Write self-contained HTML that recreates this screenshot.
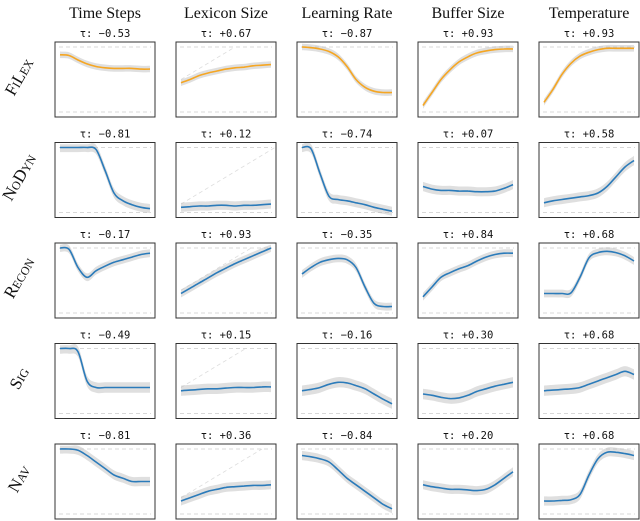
<!DOCTYPE html>
<html><head><meta charset="utf-8">
<style>
html,body{margin:0;padding:0;background:#fff;}
svg{display:block;}
.hdr{font-family:"Liberation Serif",serif;font-size:16px;fill:#111;}
.tau{font-family:"DejaVu Sans Mono","Liberation Mono",monospace;font-size:10.5px;fill:#111;}
.row{font-family:"Liberation Serif",serif;font-size:17px;fill:#111;font-variant:small-caps;}
</style></head>
<body>
<svg id="chart" width="640" height="521" viewBox="0 0 640 521" xmlns="http://www.w3.org/2000/svg"></svg>
<script>
const columns = ["Time Steps","Lexicon Size","Learning Rate","Buffer Size","Temperature"];
const rows = ["FiLex","NoDyn","Recon","Sig","Nav"];
const taus = [
 ["−0.53","+0.67","−0.87","+0.93","+0.93"],
 ["−0.81","+0.12","−0.74","+0.07","+0.58"],
 ["−0.17","+0.93","−0.35","+0.84","+0.68"],
 ["−0.49","+0.15","−0.16","+0.30","+0.68"],
 ["−0.81","+0.36","−0.84","+0.20","+0.68"]
];
const filexCurves = [
 [0.88,0.87,0.8,0.74,0.7,0.68,0.67,0.67,0.67,0.66,0.66],
 [0.45,0.5,0.56,0.6,0.63,0.66,0.68,0.69,0.71,0.72,0.73],
 [1,0.99,0.97,0.93,0.85,0.7,0.5,0.38,0.32,0.3,0.3],
 [0.1,0.3,0.5,0.65,0.77,0.85,0.91,0.94,0.96,0.97,0.97],
 [0.15,0.35,0.58,0.75,0.86,0.92,0.96,0.98,0.98,0.98,0.98]
];
const nodynCurves = [
 [1,1,1,1,0.97,0.65,0.3,0.18,0.12,0.08,0.06],
 [0.08,0.09,0.1,0.1,0.11,0.11,0.1,0.11,0.11,0.12,0.13],
 [1,0.98,0.6,0.25,0.2,0.18,0.15,0.12,0.08,0.05,0.02],
 [0.4,0.36,0.34,0.34,0.33,0.33,0.32,0.32,0.33,0.37,0.43],
 [0.15,0.18,0.2,0.22,0.24,0.26,0.3,0.4,0.55,0.7,0.8]
];
const reconCurves = [
 [1,0.98,0.7,0.55,0.65,0.72,0.78,0.82,0.86,0.9,0.92],
 [0.3,0.38,0.46,0.54,0.62,0.69,0.76,0.82,0.88,0.94,1],
 [0.6,0.7,0.78,0.82,0.84,0.82,0.7,0.4,0.15,0.1,0.1],
 [0.25,0.4,0.55,0.62,0.68,0.73,0.8,0.86,0.9,0.92,0.92],
 [0.3,0.3,0.3,0.31,0.55,0.85,0.93,0.95,0.93,0.88,0.8]
];
const sigCurves = [
 [1,1,0.95,0.5,0.4,0.4,0.4,0.4,0.4,0.4,0.4],
 [0.35,0.36,0.37,0.38,0.38,0.39,0.4,0.4,0.4,0.41,0.41],
 [0.35,0.37,0.4,0.45,0.48,0.47,0.43,0.38,0.3,0.22,0.15],
 [0.3,0.28,0.25,0.23,0.24,0.28,0.34,0.38,0.42,0.45,0.48],
 [0.35,0.36,0.37,0.38,0.4,0.45,0.5,0.55,0.6,0.65,0.6]
];
const navCurves = [
 [1,1,0.98,0.9,0.8,0.7,0.6,0.55,0.5,0.5,0.5],
 [0.2,0.25,0.3,0.35,0.38,0.41,0.42,0.43,0.44,0.44,0.45],
 [0.9,0.88,0.85,0.8,0.68,0.55,0.45,0.35,0.25,0.15,0.08],
 [0.45,0.42,0.4,0.38,0.38,0.37,0.36,0.38,0.45,0.55,0.65],
 [0.2,0.2,0.21,0.22,0.3,0.6,0.85,0.95,0.95,0.93,0.9]
];
const curves = [filexCurves,nodynCurves,reconCurves,sigCurves,navCurves];
const spreads = [0.05,0.07,0.06,0.08,0.07];
const rowColors = ["#f5a623","#2b7bba","#2b7bba","#2b7bba","#2b7bba"];

const NS="http://www.w3.org/2000/svg";
const svg=document.getElementById('chart');
const PL=55, PT=42, PW=100, PH=75, DX=121, DY=100.5;
function mk(tag,attrs,parent){const e=document.createElementNS(NS,tag);for(const k in attrs)e.setAttribute(k,attrs[k]);(parent||svg).appendChild(e);return e;}
function path(pts){
  let d="M"+pts[0][0].toFixed(1)+","+pts[0][1].toFixed(1);
  for(let i=0;i<pts.length-1;i++){
    const p0=pts[Math.max(0,i-1)],p1=pts[i],p2=pts[i+1],p3=pts[Math.min(pts.length-1,i+2)];
    const c1=[p1[0]+(p2[0]-p0[0])/6,p1[1]+(p2[1]-p0[1])/6];
    const c2=[p2[0]-(p3[0]-p1[0])/6,p2[1]-(p3[1]-p1[1])/6];
    d+=" C"+c1[0].toFixed(1)+","+c1[1].toFixed(1)+" "+c2[0].toFixed(1)+","+c2[1].toFixed(1)+" "+p2[0].toFixed(1)+","+p2[1].toFixed(1);
  }
  return d;
}
columns.forEach((c,j)=>{
  const t=mk('text',{x:PL+j*DX+PW/2,y:18,'text-anchor':'middle',class:'hdr'});
  
  
  t.textContent=c;
});
rows.forEach((r,i)=>{
  const cy=PT+i*DY+PH/2;
  const t=mk('text',{x:0,y:0,'text-anchor':'middle',class:'row',transform:`translate(24,${cy}) rotate(-60)`});
  
  
  t.textContent=r;
  for(let j=0;j<5;j++){
    const x0=PL+j*DX, y0=PT+i*DY;
    const g=mk('g',{});
    
    
    const tt=mk('text',{x:x0+PW/2,y:y0-5,'text-anchor':'middle',class:'tau'},g);
    
    
    tt.textContent='τ: '+taus[i][j];
    const sx=v=>x0+5+v*(PW-10);
    const sy=v=>y0+PH-5-v*(PH-10);
    mk('line',{x1:x0+4,x2:x0+PW-4,y1:sy(1),y2:sy(1),stroke:'#ccc','stroke-dasharray':'4,3','stroke-width':0.8},g);
    mk('line',{x1:x0+4,x2:x0+PW-4,y1:sy(0),y2:sy(0),stroke:'#ccc','stroke-dasharray':'4,3','stroke-width':0.8},g);
    const ys=curves[i][j];
    if(j===1){
      const b=ys[0]+0.05;
      mk('line',{x1:sx(0),y1:sy(b),x2:sx((1-b)*1.2),y2:sy(1),stroke:'#ddd','stroke-dasharray':'4,3','stroke-width':0.8},g);
    }
    const n=ys.length, sp=spreads[i];
    const top=ys.map((v,k)=>[sx(k/(n-1)),sy(Math.min(1.05,v+sp))]);
    const bot=ys.map((v,k)=>[sx(k/(n-1)),sy(v-sp)]).reverse();
    const band=mk('path',{d:path(top)+" L"+path(bot).slice(1)+" Z",fill:'#b8b8b8','fill-opacity':0.45,stroke:'none'},g);
    
    
    const pts=ys.map((v,k)=>[sx(k/(n-1)),sy(v)]);
    const ln=mk('path',{d:path(pts),fill:'none',stroke:rowColors[i],'stroke-width':1.6},g);
    
    
    mk('rect',{x:x0,y:y0,width:PW,height:PH,fill:'none',stroke:'#333','stroke-width':1},g);
  }
});
</script>
</body></html>
